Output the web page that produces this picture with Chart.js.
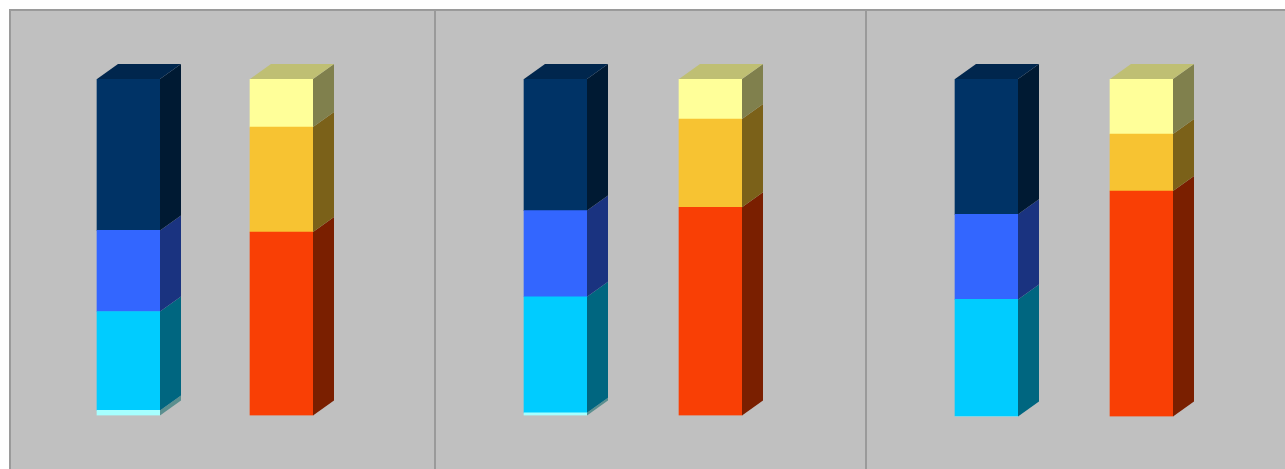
<!DOCTYPE html>
<html>
<head>
<meta charset="utf-8">
<script src="https://cdn.jsdelivr.net/npm/chart.js@4"></script>
<style>
    body { margin: 0; background: #ffffff; width: 1285px; height: 469px; overflow: hidden; position: relative; }
    #frame { position: absolute; left: 9px; top: 9px; right: 0; bottom: 0; background: #c0c0c0;
             border-left: 2px solid #9a9a9a; border-top: 2px solid #9a9a9a; }
    .divider { position: absolute; top: 9px; bottom: 0; width: 2px; background: #9a9a9a; }
    canvas { position: absolute; top: 11px; }
</style>
</head>
<body>
<div id="frame"></div>
<div class="divider" style="left:434px"></div>
<div class="divider" style="left:865px"></div>
<canvas id="Chart1" width="423" height="458" style="left:11px"></canvas>
<canvas id="Chart2" width="429" height="458" style="left:436px"></canvas>
<canvas id="Chart3" width="418" height="458" style="left:867px"></canvas>
<script>
// two stacks per panel, shares in percent
const categories = ['Stack 1', 'Stack 2'];
const lightCyanValues = [1.5, 0.8, 0];
const cyanValues = [29.4, 34.5, 34.7];
const blueValues = [24.1, 25.6, 25.2];
const navyValues = [45.0, 39.1, 40.1];
const redValues = [54.5, 61.9, 66.8];
const orangeValues = [31.2, 26.2, 16.9];
const yellowValues = [14.3, 11.9, 16.3];

// fake 3D depth drawn next to the bars Chart.js lays out
const DEPTH_X = 21;
const DEPTH_Y = 15;

const depthPlugin = {
    id: 'depth',
    afterDatasetsDraw(chart) {
        const ctx = chart.ctx;
        const tops = {};
        chart.data.datasets.forEach((ds, i) => {
            const meta = chart.getDatasetMeta(i);
            meta.data.forEach((bar, j) => {
                if (ds.data[j] == null || ds.data[j] === 0) return;
                const p = bar.getProps(['x', 'y', 'base', 'width'], true);
                const left = p.x - p.width / 2;
                const right = p.x + p.width / 2;
                ctx.save();
                ctx.fillStyle = ds.sideColor;
                ctx.beginPath();
                ctx.moveTo(right, p.y);
                ctx.lineTo(right + DEPTH_X, p.y - DEPTH_Y);
                ctx.lineTo(right + DEPTH_X, p.base - DEPTH_Y);
                ctx.lineTo(right, p.base);
                ctx.closePath();
                ctx.fill();
                ctx.restore();
                if (!tops[j] || p.y < tops[j].y) {
                    tops[j] = {y: p.y, left: left, right: right, color: ds.topColor};
                }
            });
        });
        Object.values(tops).forEach(t => {
            ctx.save();
            ctx.fillStyle = t.color;
            ctx.beginPath();
            ctx.moveTo(t.left, t.y);
            ctx.lineTo(t.left + DEPTH_X, t.y - DEPTH_Y);
            ctx.lineTo(t.right + DEPTH_X, t.y - DEPTH_Y);
            ctx.lineTo(t.right, t.y);
            ctx.closePath();
            ctx.fill();
            ctx.restore();
        });
    }
};

function makeDataset(label, value, index, front, side, top) {
    const data = index === 0 ? [value, null] : [null, value];
    return {
        label: label,
        data: data,
        backgroundColor: front,
        sideColor: side,
        topColor: top,
        borderWidth: 0,
        barThickness: 63
    };
}

function drawPanel(canvasId, n, padding) {
    const datasets = [
        makeDataset('Light cyan', lightCyanValues[n], 0, '#a6ffff', '#5b8f8f', '#7fbfbf'),
        makeDataset('Cyan', cyanValues[n], 0, '#00ccff', '#006680', '#0099bf'),
        makeDataset('Blue', blueValues[n], 0, '#3366ff', '#1a3380', '#264dbf'),
        makeDataset('Navy', navyValues[n], 0, '#003366', '#001a33', '#00264d'),
        makeDataset('Red', redValues[n], 1, '#f93f05', '#7a1f00', '#bb2f04'),
        makeDataset('Orange', orangeValues[n], 1, '#f7c332', '#7b6119', '#b99226'),
        makeDataset('Yellow', yellowValues[n], 1, '#ffff99', '#80804d', '#bfbf73')
    ];

    new Chart(document.getElementById(canvasId), {
        type: 'bar',
        data: {
            labels: categories,
            datasets: datasets
        },
        options: {
            responsive: false,
            animation: false,
            events: [],
            layout: {padding: padding},
            scales: {
                x: {stacked: true, display: false},
                y: {stacked: true, display: false, min: 0, max: 100}
            },
            plugins: {
                legend: {display: false},
                tooltip: {enabled: false},
                title: {display: false}
            }
        },
        plugins: [depthPlugin]
    });
}

drawPanel('Chart1', 0, {left: 41, right: 76, top: 68, bottom: 53.5});
drawPanel('Chart2', 1, {left: 42, right: 77, top: 68, bottom: 53.5});
drawPanel('Chart3', 2, {left: 42, right: 66, top: 68, bottom: 52.5});
</script>
</body>
</html>
